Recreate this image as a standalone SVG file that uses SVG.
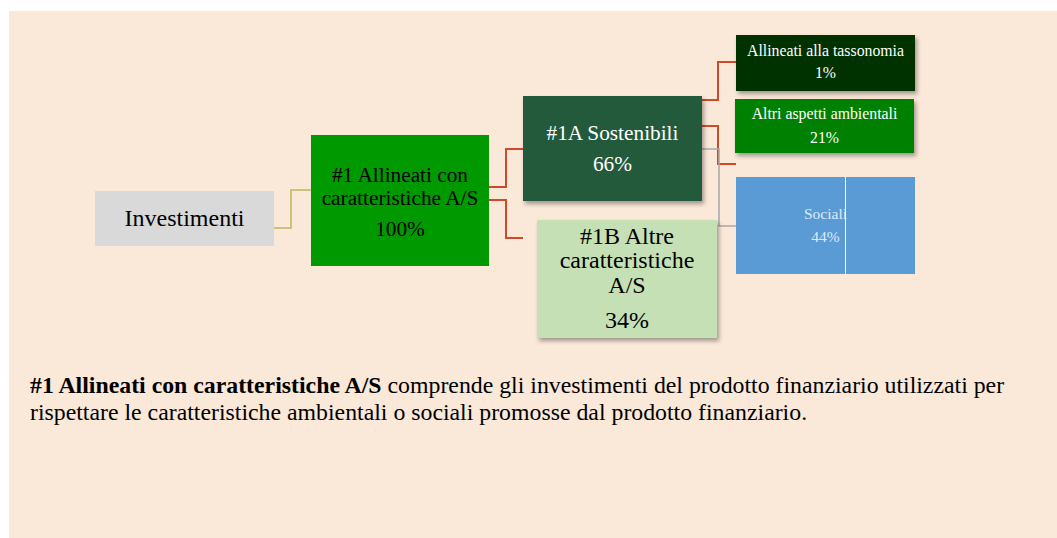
<svg xmlns="http://www.w3.org/2000/svg" width="1057" height="538" viewBox="0 0 1057 538">
<defs>
<filter id="sh" x="-10%" y="-10%" width="130%" height="140%">
<feDropShadow dx="2" dy="3" stdDeviation="2" flood-color="#000" flood-opacity="0.35"/>
</filter>
</defs>
<style>
text{font-family:"Liberation Serif","Times New Roman",serif;text-anchor:middle}
.red{fill:none;stroke:#CF4A2B;stroke-width:2}
.kh{fill:none;stroke:#CDC27C;stroke-width:2}
.gr{fill:none;stroke:#A6A6A6;stroke-width:1.5}
.w{fill:#FFFFFF}
.b{fill:#000000}
.note{text-anchor:start;font-size:23.8px;fill:#000}
</style>
<rect x="0" y="0" width="1057" height="538" fill="#FFFFFF"/>
<rect x="9" y="11" width="1048" height="527" fill="#FAE8D8"/>
<g id="connectors">
<polyline class="kh" points="274,228 291,228 291,190 311,190"/>
<polyline class="red" points="489,187 506,187 506,149 523,149"/>
<polyline class="red" points="489,200 506,200 506,238 523,238"/>
<polyline class="red" points="702,100 718,100 718,62 736,62"/>
<polyline class="red" points="702,126 718,126 718,164 736,164"/>
<polyline class="gr" points="702,149 719,149 719,226 736,226"/>
</g>
<g id="investimenti">
<rect x="95" y="191" width="179" height="55" fill="#D9D9D9"/>
<text x="184.5" y="226" font-size="24" class="b">Investimenti</text>
</g>
<g id="allineati-as">
<rect x="311" y="135" width="178" height="131" fill="#009900"/>
<text x="400" y="182" font-size="21.3" class="b">#1 Allineati con</text>
<text x="400" y="205" font-size="21.3" class="b">caratteristiche A/S</text>
<text x="400" y="236" font-size="21.3" class="b">100%</text>
</g>
<g id="sostenibili">
<rect x="523" y="96" width="179" height="105" fill="#245A3B" filter="url(#sh)"/>
<text x="612.5" y="140" font-size="21.3" class="w">#1A Sostenibili</text>
<text x="612.5" y="171" font-size="21.3" class="w">66%</text>
</g>
<g id="altre-as">
<rect x="537" y="220" width="180" height="118" fill="#C5E0B4" filter="url(#sh)"/>
<text x="627" y="244" font-size="24" class="b">#1B Altre</text>
<text x="627" y="268" font-size="24" class="b">caratteristiche</text>
<text x="627" y="293" font-size="24" class="b">A/S</text>
<text x="627" y="328" font-size="24" class="b">34%</text>
</g>
<g id="tassonomia">
<rect x="736" y="35" width="179" height="56" fill="#003300" filter="url(#sh)"/>
<text x="825.5" y="56" font-size="15.8" class="w">Allineati alla tassonomia</text>
<text x="825.5" y="78" font-size="15.8" class="w">1%</text>
</g>
<g id="ambientali">
<rect x="735" y="99" width="179" height="54" fill="#008000" filter="url(#sh)"/>
<text x="824.5" y="119" font-size="15.8" class="w">Altri aspetti ambientali</text>
<text x="824.5" y="143" font-size="15.8" class="w">21%</text>
</g>
<g id="sociali">
<rect x="736" y="177" width="179" height="97" fill="#5B9BD5"/>
<text x="825.5" y="219" font-size="15.5" fill="#FFFFFF" fill-opacity="0.8">Sociali</text>
<text x="825.5" y="242" font-size="15.5" fill="#FFFFFF" fill-opacity="0.8">44%</text>
<line x1="845.5" y1="177" x2="845.5" y2="274" stroke="#FFFFFF" stroke-width="1"/>
</g>
<g id="description">
<text x="30" y="393" class="note"><tspan font-weight="bold">#1 Allineati con caratteristiche A/S</tspan> comprende gli investimenti del prodotto finanziario utilizzati per</text>
<text x="30" y="420" class="note">rispettare le caratteristiche ambientali o sociali promosse dal prodotto finanziario.</text>
</g>
</svg>
